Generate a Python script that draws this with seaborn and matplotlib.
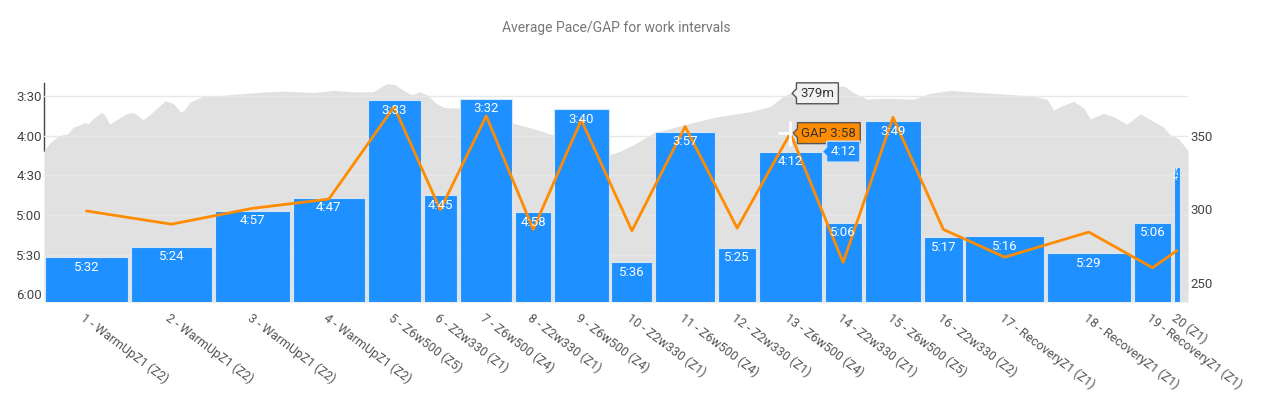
import numpy as np
import pandas as pd
import matplotlib
matplotlib.use("Agg")
import matplotlib.pyplot as plt
from matplotlib.path import Path
import seaborn as sns

# ---------------- data ----------------
interval_labels = [
    "1 - WarmUpZ1 (Z2)", "2 - WarmUpZ1 (Z2)", "3 - WarmUpZ1 (Z2)", "4 - WarmUpZ1 (Z2)",
    "5 - Z6w500 (Z5)", "6 - Z2w330 (Z1)", "7 - Z6w500 (Z4)", "8 - Z2w330 (Z1)",
    "9 - Z6w500 (Z4)", "10 - Z2w330 (Z1)", "11 - Z6w500 (Z4)", "12 - Z2w330 (Z1)",
    "13 - Z6w500 (Z4)", "14 - Z2w330 (Z1)", "15 - Z6w500 (Z5)", "16 - Z2w330 (Z2)",
    "17 - RecoveryZ1 (Z1)", "18 - RecoveryZ1 (Z1)", "19 - RecoveryZ1 (Z1)", "20 (Z1)",
]
durations_s = [163, 162, 149, 143, 107, 70, 106, 74, 110, 84,
               120, 79, 125, 77, 114, 79, 156, 166, 78, 16]
pace = ["5:32", "5:24", "4:57", "4:47", "3:33", "4:45", "3:32", "4:58", "3:40", "5:36",
        "3:57", "5:25", "4:12", "5:06", "3:49", "5:17", "5:16", "5:29", "5:06", "4:24"]
gap = ["4:57", "5:07", "4:55", "4:48", "3:38", "4:56", "3:45", "5:11", "3:48", "5:12",
       "3:53", "5:10", "3:58", "5:36", "3:46", "5:11", "5:32", "5:13", "5:40", "5:27"]

elev_t = [0, 11, 24, 37, 44, 56, 69, 75, 85, 98, 110, 117, 126, 139, 158, 171, 190, 209,
          232, 248, 261, 267, 280, 305, 337, 388, 427, 458, 490, 516, 554, 593, 631, 656,
          672, 688, 704, 720, 733, 752, 765, 778, 797, 848, 899, 937, 976, 1020, 1052,
          1081, 1103, 1129, 1167, 1225, 1289, 1352, 1391, 1416, 1429, 1448, 1512, 1534,
          1550, 1576, 1595, 1634, 1665, 1697, 1736, 1774, 1838, 1895, 1921, 1934, 1946,
          1972, 1991, 2004, 2029, 2049, 2074, 2100, 2119, 2144, 2157, 2173, 2191]
elev_m = [340, 345, 349, 351, 351, 356, 357.5, 359, 358.5, 363, 366, 364, 358, 361, 365,
          366, 361, 366.5, 374, 372, 366.5, 367, 373, 377, 377.5, 379, 380, 380.5, 380,
          379.5, 381, 380, 380, 385.5, 385, 381, 378, 380, 378, 372, 369.5, 369, 369,
          365.5, 358.5, 355, 350.5, 347.5, 342.5, 337, 339.5, 344, 352, 357.5, 363, 366.5,
          370, 377, 379, 383, 384.5, 383.5, 379.5, 375, 375.5, 375.5, 375, 379, 381, 380,
          378.5, 377, 375, 367.5, 370, 373.5, 369, 361.5, 365.5, 363, 358, 365, 361, 356,
          350.5, 348, 340]

pace_ticks = ["3:30", "4:00", "4:30", "5:00", "5:30", "6:00"]
elev_ticks = [250, 300, 350]

hover_elev = 379  # "379m" tooltip


def to_s(v):
    m, s = v.split(":")
    return int(m) * 60 + int(s)


# ---------------- styling ----------------
sns.set_theme(style="white")
plt.rcParams["font.family"] = ["Roboto", "DejaVu Sans"]

BLUE = "#1E90FF"
ORANGE = "#FF8C00"
AREA = "#E1E1E1"
TXT = "#444444"

df = pd.DataFrame({
    "label": interval_labels,
    "dur": durations_s,
    "pace": [to_s(p) for p in pace],
    "gap": [to_s(g) for g in gap],
})
df["start"] = df["dur"].cumsum() - df["dur"]
df["center"] = df["start"] + df["dur"] / 2

PACE_LIM = (366, 200)
ELEV_LIM = (237, 386)
X_MAX = 2191
GAP_S = 5.7

fig = plt.figure(figsize=(12.61, 3.94), dpi=100)
fig.patch.set_facecolor("white")
ax_p = fig.add_axes([0.03489, 0.23350, 0.90722, 0.55584])
ax_e = ax_p.twinx()
ax_e.set_zorder(0)
ax_p.set_zorder(1)
ax_p.patch.set_visible(False)

# elevation area (background)
ax_e.fill_between(elev_t, elev_m, ELEV_LIM[0], color=AREA, lw=0, zorder=3)
ax_e.set_ylim(*ELEV_LIM)
ax_e.set_yticks(elev_ticks)
ax_e.tick_params(axis="y", length=0, pad=1.5, labelsize=9.5, labelcolor=TXT)
for s in ["top", "right", "bottom"]:
    ax_e.spines[s].set_visible(False)
ax_e.spines["left"].set_visible(True)
ax_e.spines["left"].set_color("#444444")
ax_e.spines["left"].set_linewidth(1.0)
ax_e.spines["left"].set_bounds(elev_m[0], ELEV_LIM[1])
ax_e.grid(False)

# pace bars
ax_p.bar(df["start"] + GAP_S / 2, df["pace"] - PACE_LIM[0], width=df["dur"] - GAP_S,
         bottom=PACE_LIM[0], align="edge", color=BLUE, edgecolor="#D6E6F7",
         linewidth=0.8, zorder=2)

# GAP line
sns.lineplot(x=df["center"], y=df["gap"], ax=ax_p, color=ORANGE, lw=2, zorder=3,
             legend=False)

# bar labels
for i, r in df.iterrows():
    if i < len(df) - 1:
        ax_p.annotate(pace[i], (r["center"], r["pace"]), xytext=(0, -10),
                      textcoords="offset pixels", ha="center", va="center",
                      color="white", fontsize=9.5, zorder=5)
    else:
        ax_p.annotate(pace[i], (r["center"], r["pace"]), xytext=(0, -5),
                      textcoords="offset pixels", ha="center", va="center",
                      color="white", fontsize=5, rotation=90, zorder=5)

ax_p.set_xlim(0, X_MAX)
ax_e.set_xlim(0, X_MAX)
ax_p.set_ylim(*PACE_LIM)
ax_p.set_yticks([to_s(t) for t in pace_ticks], pace_ticks)
ax_p.tick_params(axis="y", length=0, pad=1.5, labelsize=9.5, labelcolor=TXT)
ax_p.set_xticks(df["center"], interval_labels, rotation=-37, ha="left",
                rotation_mode="anchor")
ax_p.tick_params(axis="x", length=0, pad=7, labelsize=9, labelcolor="#555555")
ax_p.set_xlabel("")
ax_p.set_ylabel("")
ax_p.yaxis.grid(True, color="#E8E8E8", lw=1)
ax_p.xaxis.grid(False)
ax_p.set_axisbelow(True)
for s in ax_p.spines.values():
    s.set_visible(False)

fig.text(0.4885, 1 - 28 / 394, "Average Pace/GAP for work intervals",
         ha="center", va="center", fontsize=10, color="#777777")


# ---------------- hover tooltips ----------------
def tip_box(x0, y0, width, height, mutation_size):
    pad = 0.3 * mutation_size
    x0, y0 = x0 - pad, y0 - pad
    x1, y1 = x0 + width + 2 * pad, y0 + height + 2 * pad
    ym = (y0 + y1) / 2
    a = 0.33 * mutation_size
    return Path([(x0, y0), (x1, y0), (x1, y1), (x0, y1), (x0, ym + a),
                 (x0 - a, ym), (x0, ym - a), (x0, y0)], closed=True)


h = df.iloc[12]
ax_p.annotate("379m", (h["center"], hover_elev), xycoords=ax_e.transData,
              xytext=(10, 0), textcoords="offset pixels", ha="left", va="center",
              fontsize=9.5, color="#333333", zorder=10, annotation_clip=False,
              bbox=dict(boxstyle=tip_box, fc="#F2F2F2", ec="#555555", lw=1))
ax_p.plot([h["center"]], [h["gap"]], marker="+", color="white", markersize=18,
          mew=2, zorder=9)
ax_p.annotate("GAP " + gap[12], (h["center"], h["gap"]), xytext=(11, 0),
              textcoords="offset pixels", ha="left", va="center", fontsize=9.5,
              color="#333333", zorder=10,
              bbox=dict(boxstyle=tip_box, fc=ORANGE, ec="#555555", lw=1))
ax_p.annotate(pace[12], (h["start"] + h["dur"] - GAP_S / 2, h["pace"]), xytext=(9, 0),
              textcoords="offset pixels", ha="left", va="center", fontsize=9.5,
              color="white", zorder=10,
              bbox=dict(boxstyle=tip_box, fc=BLUE, ec="#CFE2F7", lw=1))

fig.savefig("out.png", dpi=100)
